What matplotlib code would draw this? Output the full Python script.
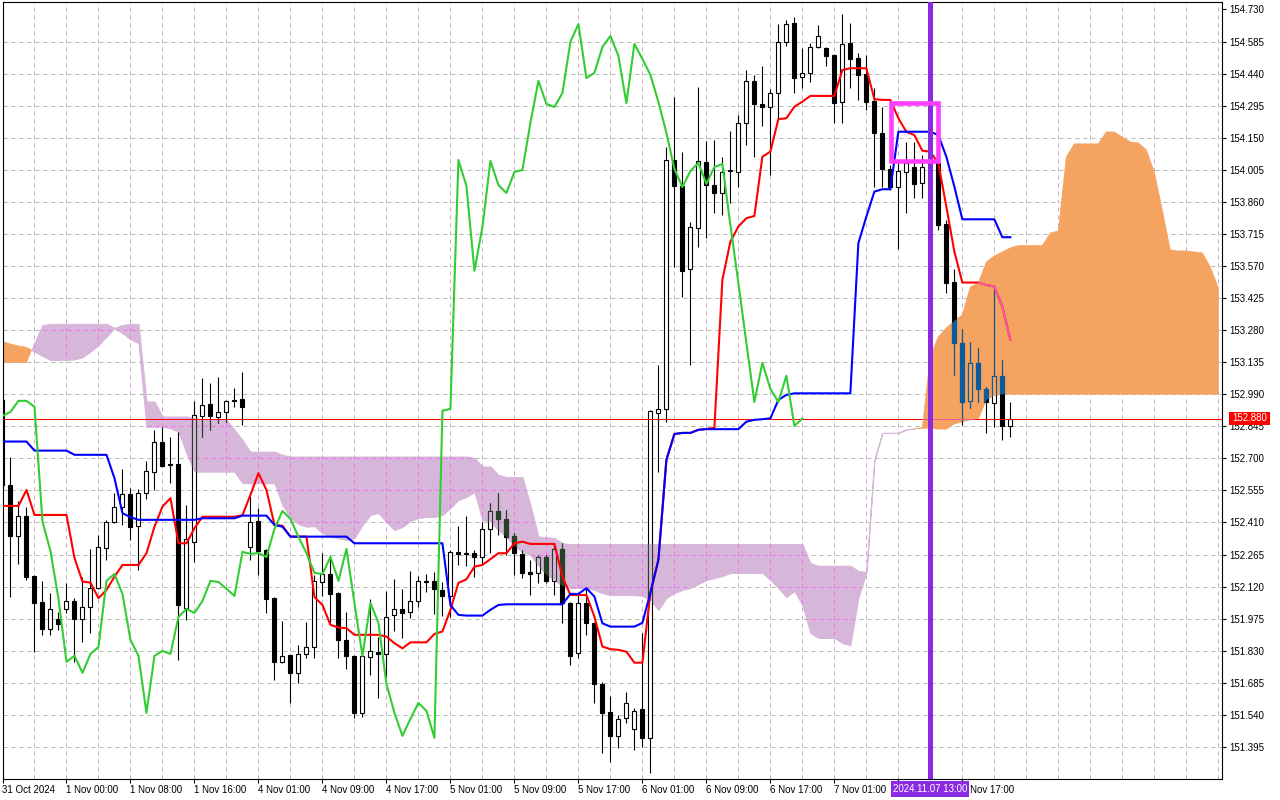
import numpy as np
import matplotlib
matplotlib.use("Agg")
import matplotlib.pyplot as plt
from matplotlib.path import Path
from matplotlib.patches import Rectangle

plt.rcParams['font.family'] = ['Liberation Sans', 'DejaVu Sans']

# H1 candles, 31 Oct 16:00 .. 7 Nov 23:00
opens = [152.964, 152.580, 152.349, 152.440, 152.168, 152.051, 151.929, 151.974, 152.019, 152.055,
         151.974, 152.028, 152.114, 152.295, 152.413, 152.480, 152.539, 152.395, 152.544, 152.639,
         152.774, 152.675, 152.675, 152.024, 152.322, 152.892, 152.946, 152.887, 152.910, 152.964,
         152.969, 152.300, 152.417, 152.286, 152.069, 151.780, 151.811, 151.730, 151.816, 151.847,
         152.141, 152.177, 152.091, 151.879, 151.807, 151.549, 151.802, 151.825, 151.816, 151.992,
         152.019, 152.006, 152.055, 152.146, 152.146, 152.105, 152.078, 152.277, 152.268, 152.272,
         152.254, 152.381, 152.462, 152.426, 152.349, 152.268, 152.186, 152.182, 152.254, 152.146,
         152.290, 152.046, 151.820, 152.046, 151.956, 151.680, 151.553, 151.445, 151.526, 151.476,
         151.567, 151.436, 152.905, 152.924, 154.049, 153.932, 153.557, 153.742, 154.040, 153.936,
         153.900, 153.999, 153.995, 154.217, 154.407, 154.303, 154.289, 154.352, 154.583, 154.669,
         154.425, 154.443, 154.560, 154.556, 154.524, 154.312, 154.579, 154.511, 154.438, 154.316,
         154.172, 154.009, 153.927, 153.995, 154.018, 153.945, 154.018, 154.036, 153.760, 153.498,
         153.222, 152.960, 153.132, 153.014, 152.951, 153.073, 152.847]
highs = [152.973, 152.706, 152.508, 152.480, 152.173, 152.146, 152.091, 152.006, 152.137, 152.069,
         152.164, 152.290, 152.354, 152.422, 152.544, 152.652, 152.566, 152.562, 152.688, 152.829,
         152.842, 152.797, 152.820, 152.489, 152.960, 153.064, 153.041, 153.068, 152.964, 153.019,
         153.091, 152.548, 152.476, 152.290, 152.073, 151.965, 151.816, 151.856, 151.960, 152.173,
         152.272, 152.263, 152.096, 152.006, 151.811, 151.820, 152.064, 151.893, 152.101, 152.155,
         152.110, 152.191, 152.168, 152.177, 152.186, 152.141, 152.286, 152.395, 152.440, 152.286,
         152.413, 152.498, 152.544, 152.467, 152.363, 152.286, 152.241, 152.263, 152.263, 152.318,
         152.318, 152.051, 152.091, 152.114, 151.960, 151.689, 151.626, 151.540, 151.644, 151.571,
         151.911, 152.919, 153.122, 154.108, 154.334, 154.086, 153.769, 154.380, 154.135, 154.140,
         154.063, 154.181, 154.253, 154.456, 154.434, 154.475, 154.370, 154.664, 154.683, 154.696,
         154.556, 154.578, 154.660, 154.560, 154.529, 154.710, 154.669, 154.533, 154.524, 154.375,
         154.289, 154.027, 154.040, 154.131, 154.131, 154.072, 154.095, 154.049, 153.778, 153.557,
         153.285, 153.226, 153.199, 153.023, 153.471, 153.145, 152.955]
lows = [152.557, 152.073, 152.223, 152.150, 151.825, 151.902, 151.902, 151.924, 152.001, 151.780,
        151.870, 151.911, 152.110, 152.241, 152.408, 152.399, 152.331, 152.196, 152.516, 152.557,
        152.661, 152.589, 151.789, 151.969, 152.232, 152.797, 152.829, 152.860, 152.865, 152.933,
        152.852, 152.241, 152.173, 152.001, 151.698, 151.775, 151.594, 151.685, 151.798, 151.798,
        152.078, 151.956, 151.798, 151.748, 151.526, 151.531, 151.721, 151.617, 151.712, 151.920,
        151.888, 151.978, 152.028, 152.096, 151.997, 151.988, 151.983, 152.218, 152.214, 152.164,
        152.223, 152.272, 152.354, 152.263, 152.173, 152.159, 152.082, 152.137, 152.137, 152.082,
        151.956, 151.766, 151.798, 151.902, 151.594, 151.368, 151.327, 151.391, 151.504, 151.382,
        151.395, 151.278, 152.639, 152.865, 153.566, 153.430, 153.123, 153.656, 153.697, 153.810,
        153.801, 153.855, 153.927, 154.117, 154.063, 154.203, 153.982, 154.230, 154.565, 154.352,
        154.375, 154.402, 154.556, 154.475, 154.217, 154.217, 154.375, 154.321, 154.276, 153.927,
        153.927, 153.914, 153.647, 153.810, 153.878, 153.878, 153.959, 153.733, 153.448, 153.077,
        152.851, 152.928, 152.955, 152.815, 152.842, 152.783, 152.797]
closes = [152.580, 152.349, 152.440, 152.164, 152.046, 151.929, 152.019, 151.951, 152.055, 151.974,
          152.028, 152.114, 152.299, 152.413, 152.480, 152.539, 152.390, 152.544, 152.643, 152.774,
          152.666, 152.670, 152.037, 152.336, 152.896, 152.942, 152.892, 152.910, 152.960, 152.960,
          152.933, 152.413, 152.281, 152.064, 151.780, 151.807, 151.730, 151.816, 151.847, 152.146,
          152.177, 152.087, 151.879, 151.807, 151.549, 151.807, 151.829, 151.816, 151.983, 152.019,
          152.001, 152.055, 152.146, 152.141, 152.110, 152.078, 152.277, 152.268, 152.272, 152.254,
          152.381, 152.462, 152.426, 152.345, 152.272, 152.182, 152.177, 152.254, 152.146, 152.290,
          152.046, 151.807, 152.046, 151.956, 151.680, 151.549, 151.445, 151.522, 151.594, 151.558,
          151.436, 152.915, 152.924, 154.049, 153.932, 153.548, 153.746, 154.045, 153.936, 153.900,
          153.995, 154.004, 154.217, 154.407, 154.303, 154.289, 154.352, 154.583, 154.664, 154.420,
          154.443, 154.560, 154.610, 154.520, 154.307, 154.574, 154.506, 154.434, 154.312, 154.172,
          154.009, 153.927, 153.999, 154.036, 153.941, 154.018, 154.031, 153.755, 153.493, 153.222,
          152.955, 153.132, 153.014, 152.955, 153.073, 152.847, 152.880]

# Ichimoku lines
tenkan = [152.485, 152.485, 152.485, 152.557, 152.444, 152.444, 152.444, 152.444, 152.444, 152.249,
          152.143, 152.138, 152.068, 152.105, 152.165, 152.218, 152.218, 152.218, 152.271, 152.391,
          152.482, 152.520, 152.316, 152.316, 152.384, 152.436, 152.436, 152.436, 152.436, 152.436,
          152.443, 152.535, 152.633, 152.557, 152.399, 152.395, 152.346, 152.346, 152.346, 152.073,
          152.037, 151.947, 151.935, 151.932, 151.902, 151.902, 151.902, 151.902, 151.894, 151.864,
          151.841, 151.868, 151.868, 151.868, 151.906, 151.917, 152.015, 152.137, 152.153, 152.210,
          152.218, 152.244, 152.271, 152.271, 152.316, 152.323, 152.313, 152.313, 152.313, 152.313,
          152.165, 152.082, 152.082, 152.082, 151.984, 151.849, 151.837, 151.834, 151.826, 151.776,
          151.776, 152.092, 152.241, 152.693, 152.810, 152.815, 152.815, 152.829, 152.833, 152.838,
          153.507, 153.680, 153.748, 153.786, 153.796, 154.064, 154.087, 154.234, 154.238, 154.290,
          154.313, 154.339, 154.339, 154.339, 154.339, 154.456, 154.464, 154.464, 154.464, 154.324,
          154.321, 154.321, 154.238, 154.177, 154.162, 154.091, 154.087, 154.034, 153.838, 153.635,
          153.495, 153.495, 153.495, 153.484, 153.477, 153.386, 153.236]
kijun = [152.776, 152.776, 152.776, 152.776, 152.735, 152.735, 152.735, 152.735, 152.735, 152.716,
         152.716, 152.716, 152.716, 152.716, 152.610, 152.452, 152.434, 152.422, 152.422, 152.422,
         152.422, 152.422, 152.422, 152.422, 152.422, 152.429, 152.429, 152.429, 152.429, 152.429,
         152.441, 152.441, 152.441, 152.441, 152.399, 152.391, 152.346, 152.346, 152.346, 152.346,
         152.346, 152.346, 152.346, 152.346, 152.316, 152.316, 152.316, 152.316, 152.316, 152.316,
         152.316, 152.316, 152.316, 152.316, 152.316, 152.316, 152.037, 151.992, 151.989, 151.989,
         151.989, 152.015, 152.037, 152.040, 152.040, 152.040, 152.040, 152.040, 152.040, 152.040,
         152.040, 152.087, 152.087, 152.113, 152.075, 151.954, 151.939, 151.939, 151.939, 151.939,
         151.956, 152.092, 152.241, 152.693, 152.810, 152.815, 152.815, 152.829, 152.832, 152.832,
         152.832, 152.832, 152.832, 152.866, 152.874, 152.877, 152.881, 152.964, 152.987, 152.994,
         152.994, 152.994, 152.994, 152.994, 152.994, 152.994, 152.994, 153.673, 153.793, 153.906,
         153.917, 153.917, 154.177, 154.177, 154.177, 154.177, 154.177, 154.162, 154.064, 153.929,
         153.781, 153.781, 153.781, 153.781, 153.781, 153.700, 153.700]
# senkou spans as plotted (already shifted 26 bars ahead)
span_a = [153.228, 153.217, 153.208, 153.202, 153.183, 153.163, 153.145, 153.145, 153.145, 153.148,
          153.157, 153.183, 153.213, 153.250, 153.290, 153.266, 153.239, 153.221, 152.843, 152.843,
          152.843, 152.836, 152.821, 152.723, 152.640, 152.640, 152.640, 152.640, 152.640, 152.640,
          152.588, 152.588, 152.588, 152.588, 152.588, 152.489, 152.431, 152.403, 152.391, 152.394,
          152.361, 152.346, 152.339, 152.331, 152.340, 152.399, 152.444, 152.453, 152.412, 152.376,
          152.390, 152.417, 152.431, 152.435, 152.435, 152.444, 152.476, 152.512, 152.526, 152.548,
          152.422, 152.412, 152.376, 152.345, 152.304, 152.277, 152.263, 152.214, 152.173, 152.150,
          152.123, 152.114, 152.114, 152.114, 152.105, 152.091, 152.082, 152.082, 152.082, 152.082,
          152.078, 152.060, 152.015, 152.069, 152.091, 152.105, 152.114, 152.132, 152.150, 152.159,
          152.168, 152.182, 152.182, 152.182, 152.182, 152.182, 152.150, 152.114, 152.073, 152.101,
          152.037, 151.911, 151.888, 151.888, 151.888, 151.865, 151.856, 152.069, 152.186, 152.693,
          152.815, 152.815, 152.815, 152.831, 152.835, 152.838, 153.163, 153.249, 153.290, 153.321,
          153.349, 153.475, 153.493, 153.588, 153.615, 153.633, 153.652, 153.662, 153.662, 153.662,
          153.662, 153.719, 153.728, 154.063, 154.122, 154.122, 154.122, 154.122, 154.176, 154.176,
          154.153, 154.131, 154.126, 154.095, 153.995, 153.823, 153.643, 153.638, 153.638, 153.633,
          153.629, 153.566, 153.471]
span_b = [153.133, 153.133, 153.133, 153.133, 153.222, 153.303, 153.308, 153.308, 153.308, 153.308,
          153.308, 153.308, 153.308, 153.308, 153.290, 153.303, 153.308, 153.308, 152.957, 152.957,
          152.889, 152.889, 152.889, 152.889, 152.881, 152.874, 152.874, 152.874, 152.874, 152.829,
          152.783, 152.730, 152.730, 152.730, 152.730, 152.716, 152.708, 152.708, 152.708, 152.708,
          152.708, 152.708, 152.708, 152.708, 152.708, 152.708, 152.708, 152.708, 152.708, 152.708,
          152.708, 152.708, 152.708, 152.708, 152.708, 152.708, 152.708, 152.708, 152.708, 152.702,
          152.663, 152.663, 152.625, 152.615, 152.615, 152.615, 152.489, 152.346, 152.343, 152.340,
          152.316, 152.312, 152.312, 152.312, 152.312, 152.312, 152.312, 152.312, 152.312, 152.312,
          152.312, 152.312, 152.312, 152.312, 152.312, 152.312, 152.312, 152.312, 152.312, 152.312,
          152.312, 152.312, 152.312, 152.312, 152.312, 152.312, 152.312, 152.312, 152.312, 152.312,
          152.312, 152.226, 152.214, 152.214, 152.214, 152.214, 152.214, 152.191, 152.186, 152.693,
          152.815, 152.815, 152.815, 152.831, 152.835, 152.836, 152.836, 152.832, 152.832, 152.856,
          152.865, 152.874, 152.878, 152.964, 152.984, 152.990, 152.990, 152.990, 152.990, 152.990,
          152.990, 152.990, 152.990, 152.990, 152.990, 152.990, 152.990, 152.990, 152.990, 152.990,
          152.990, 152.990, 152.990, 152.990, 152.990, 152.990, 152.990, 152.990, 152.990, 152.990,
          152.990, 152.990, 152.990]

price_ticks = [154.730, 154.585, 154.440, 154.295, 154.150, 154.005, 153.860, 153.715,
               153.570, 153.425, 153.280, 153.135, 152.990, 152.845, 152.700, 152.555,
               152.410, 152.265, 152.120, 151.975, 151.830, 151.685, 151.540, 151.395]
price_labels = ['154.730', '154.585', '154.440', '154.295', '154.150', '154.005', '153.860', '153.715',
                '153.570', '153.425', '153.280', '153.135', '152.990', '152.845', '152.700', '152.555',
                '152.410', '152.265', '152.120', '151.975', '151.830', '151.685', '151.540', '151.395']
# the 7 Nov 09:00 label sits under the highlighted time tag, so it is left blank
time_bars = [0, 8, 16, 24, 32, 40, 48, 56, 64, 72, 80, 88, 96, 104, 112, 120]
time_labels = ['31 Oct 2024', '1 Nov 00:00', '1 Nov 08:00', '1 Nov 16:00', '4 Nov 01:00',
               '4 Nov 09:00', '4 Nov 17:00', '5 Nov 01:00', '5 Nov 09:00', '5 Nov 17:00',
               '6 Nov 01:00', '6 Nov 09:00', '6 Nov 17:00', '7 Nov 01:00', '',
               '7 Nov 17:00']

bid = 152.880
marker_bar = 116
marker_label = '2024.11.07 13:00'
box_bars = (111.06, 116.9)
box_prices = (154.046, 154.309)

CLOUD_UP = '#f4a460'      # sandy brown
CLOUD_DN = '#d6b6d9'      # thistle
XOR_UP = '#0b5b9f'        # black seen through the sandy cloud
XOR_DN = '#274027'        # black seen through the thistle cloud
PURPLE = '#8a2be2'
GRID_V = '#c6aec6'
GRID_H = '#aebcae'
HAIR = 0.72               # one device pixel at 100 dpi

W, H = 1280, 800
fig = plt.figure(figsize=(12.8, 8), dpi=100)
fig.patch.set_facecolor('white')
# plot frame in pixels: left 2.5, right 1222.3, top 1.7, bottom 779
ax = fig.add_axes([2.5 / W, 1 - 779 / H, (1222.3 - 2.5) / W, (779 - 1.7) / H])
ax.set_xlim(0.025, 152.5)
ax.set_ylim(151.250, 154.765)


def hair(line, clip=None):
    line.set_snap(True)
    if clip is not None:
        line.set_clip_path(clip, ax.transData)
    return line


# grid
for b in range(4, 153, 4):
    hair(ax.axvline(b, color=GRID_V, lw=HAIR, ls=(0, (4, 4)), zorder=0.5))
for p in price_ticks[1:]:
    hair(ax.axhline(p, color=GRID_H, lw=HAIR, ls=(0, (4, 4)), zorder=0.5))

# cloud
xs = np.arange(len(span_a))
A = np.array(span_a)
B = np.array(span_b)
up_cloud = ax.fill_between(xs, A, B, where=A > B, interpolate=True,
                           facecolor=CLOUD_UP, edgecolor=CLOUD_UP, lw=0.5, zorder=1)
dn_cloud = ax.fill_between(xs, A, B, where=A <= B, interpolate=True,
                           facecolor=CLOUD_DN, edgecolor=CLOUD_DN, lw=0.8, zorder=1)
up_path = Path.make_compound_path(*up_cloud.get_paths())
dn_path = Path.make_compound_path(*dn_cloud.get_paths())

# grid dashes show up magenta inside the thistle cloud
for b in range(4, 153, 4):
    hair(ax.axvline(b, color='#f070f0', lw=HAIR, ls=(0, (4, 4)), zorder=1.2), dn_path)
for p in price_ticks[1:]:
    hair(ax.axhline(p, color='#f070f0', lw=HAIR, ls=(0, (4, 4)), zorder=1.2), dn_path)

# candles
bars = np.arange(len(closes))
o = np.array(opens)
h = np.array(highs)
l = np.array(lows)
c = np.array(closes)
bull = c > o
lo = np.minimum(o, c)
ht = np.abs(c - o)


def candles(face_up, face_dn, edge, z, clip=None):
    arts = [ax.vlines(bars, l, h, colors=edge, lw=0.8, zorder=z)]
    arts += list(ax.bar(bars[bull], ht[bull], bottom=lo[bull], width=0.5, color=face_up,
                        edgecolor=edge, lw=0.8, zorder=z))
    arts += list(ax.bar(bars[~bull], ht[~bull], bottom=lo[~bull], width=0.5, color=face_dn,
                        edgecolor=edge, lw=0.8, zorder=z))
    if clip is not None:
        for a in arts:
            a.set_clip_path(clip, ax.transData)


candles('white', 'black', 'black', 2)
candles(CLOUD_UP, XOR_UP, XOR_UP, 2.1, up_path)
candles(CLOUD_DN, XOR_DN, XOR_DN, 2.1, dn_path)

# bid line (shows pink where it runs through the sandy cloud)
hair(ax.axhline(bid, color='#ff0000', lw=HAIR, zorder=2.9))
hair(ax.axhline(bid, color='#f45b9f', lw=HAIR, zorder=2.95), up_path)

# ichimoku lines
ax.plot(bars, tenkan, color='#ff0000', lw=1.5, zorder=3)
tk = ax.plot(bars, tenkan, color='#f45b9f', lw=1.5, zorder=3.05)[0]
tk.set_clip_path(up_path, ax.transData)
ax.plot(bars, kijun, color='#0000ff', lw=1.5, zorder=3.1)
ax.plot(bars[:len(closes) - 26], closes[26:], color='#32cd32', lw=1.5, zorder=3.2)

# vertical marker and user rectangle
ax.axvline(marker_bar, color=PURPLE, lw=3.6, zorder=5)
ax.add_patch(Rectangle((box_bars[0], box_prices[0]), box_bars[1] - box_bars[0],
                       box_prices[1] - box_prices[0], fill=False, edgecolor='#ff3cff',
                       lw=3.3, zorder=6))

# axes
for s in ax.spines.values():
    s.set_color('black')
    s.set_linewidth(0.8)
ax.yaxis.tick_right()
ax.set_yticks(price_ticks)
ax.set_yticklabels(price_labels)
ax.set_xticks(time_bars)
ax.set_xticklabels(time_labels)
for lbl in ax.get_xticklabels():
    lbl.set_horizontalalignment('left')
ax.tick_params(axis='y', direction='out', length=3, width=0.8, pad=2.2, labelsize=7, colors='black')
ax.tick_params(axis='x', direction='out', length=3, width=0.8, pad=1.5, labelsize=7, colors='black')

# bid price tag on the price scale
fig.add_artist(Rectangle((1229 / W, 1 - 425 / H), 41 / W, 13.5 / H, transform=fig.transFigure,
                         facecolor='#ff0000', edgecolor='none', zorder=5))
fig.text(1249.5 / W, 1 - 418.5 / H, '152.880', color='white', fontsize=7,
         ha='center', va='center', zorder=6)

# highlighted time tag under the marker line
fig.add_artist(Rectangle((891 / W, 1 - 797 / H), 78 / W, 16 / H, transform=fig.transFigure,
                         facecolor=PURPLE, edgecolor='none', zorder=5))
fig.text(930 / W, 1 - 789 / H, marker_label, color='white', fontsize=7,
         ha='center', va='center', zorder=6)

fig.savefig('out.png', dpi=100)
